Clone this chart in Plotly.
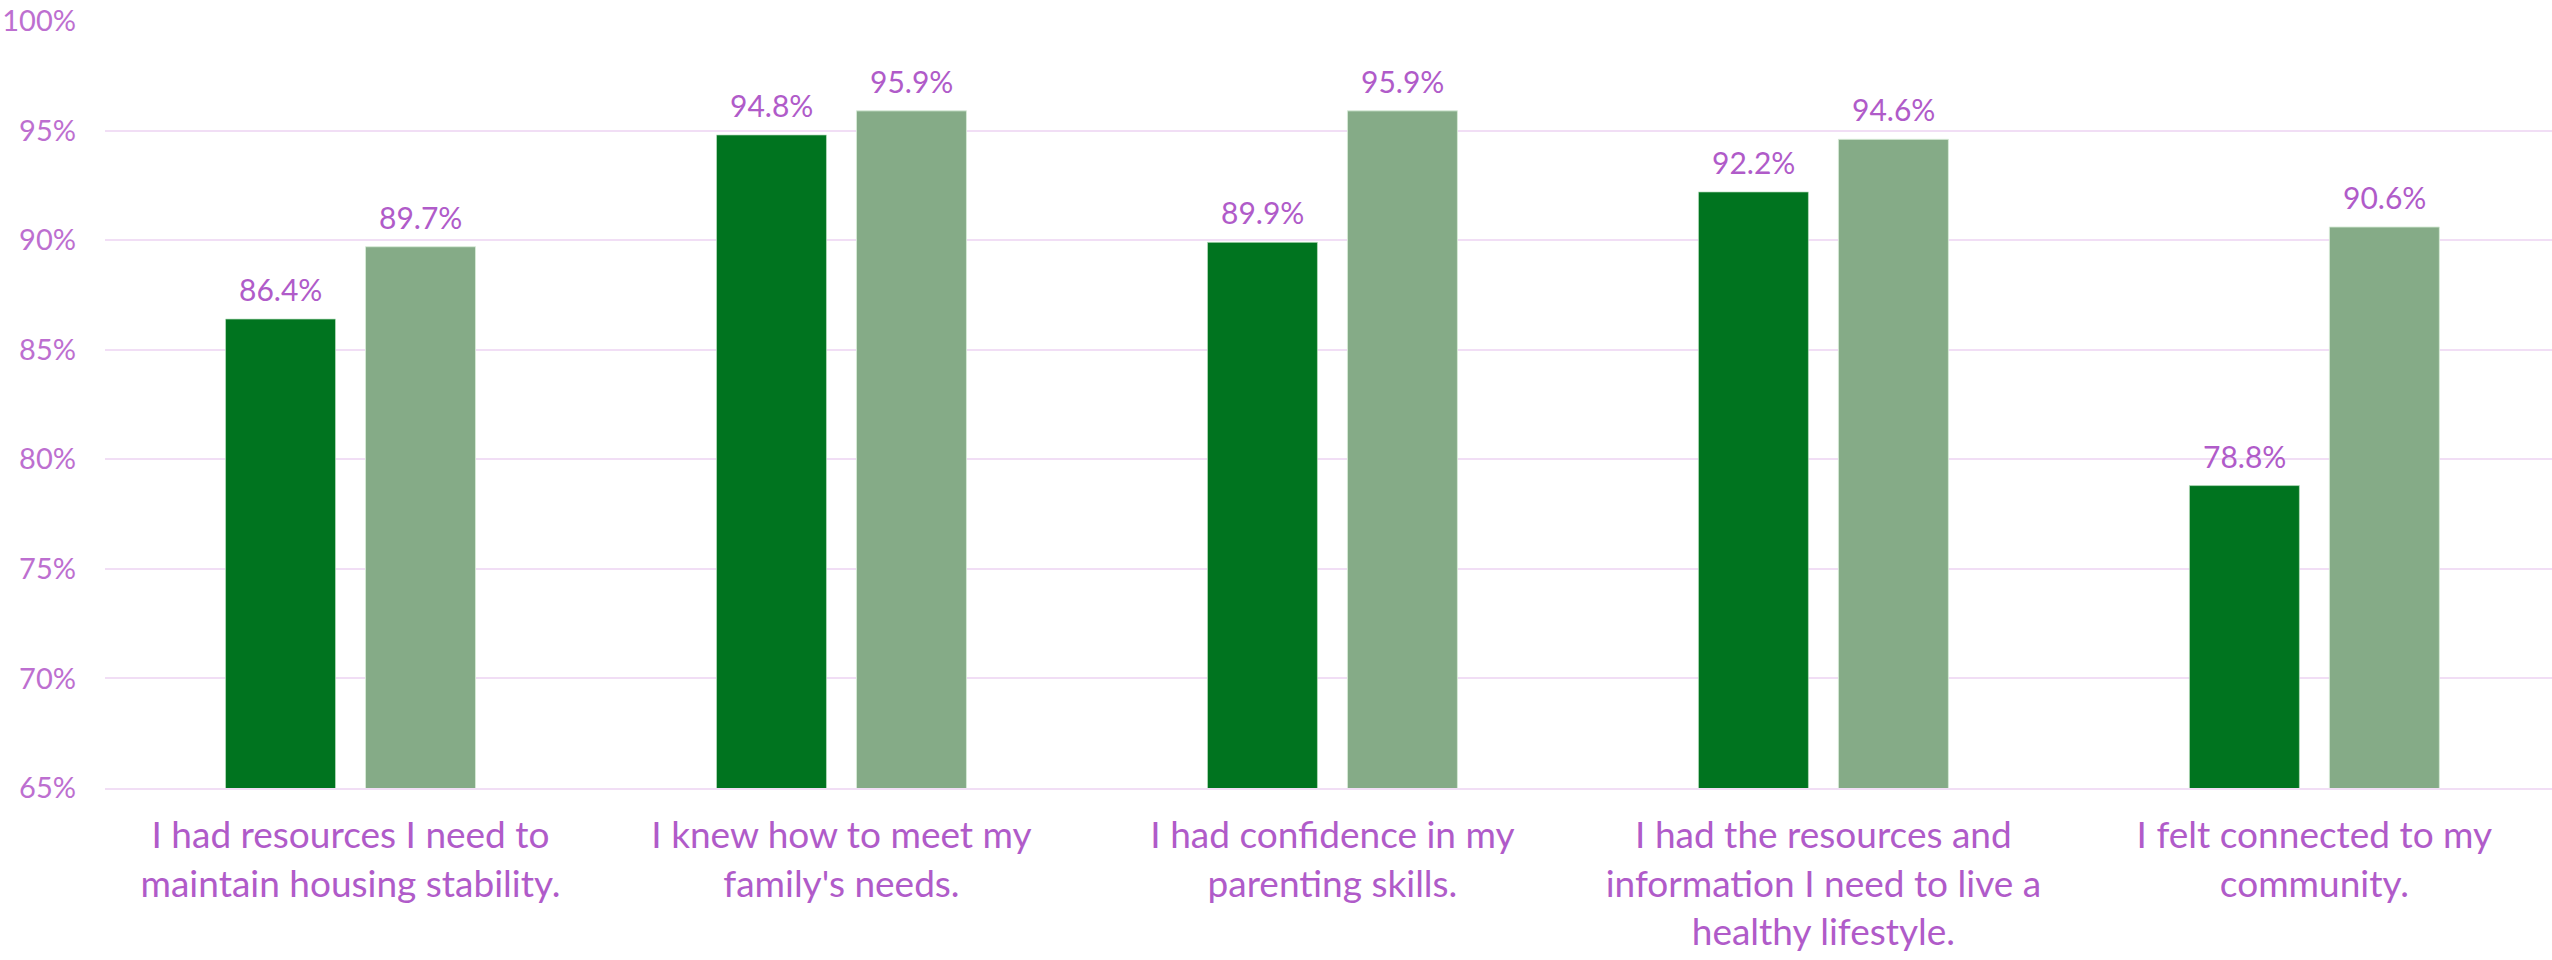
import plotly.graph_objects as go

# Survey statements (x-axis) and the share agreeing for each of two groups
statements = [
    "I had resources I need to<br>maintain housing stability.",
    "I knew how to meet my<br>family's needs.",
    "I had confidence in my<br>parenting skills.",
    "I had the resources and<br>information I need to live a<br>healthy lifestyle.",
    "I felt connected to my<br>community.",
]
series_a = [0.864, 0.948, 0.899, 0.922, 0.788]
series_b = [0.897, 0.959, 0.959, 0.946, 0.906]

y_ticks = [0.65, 0.70, 0.75, 0.80, 0.85, 0.90, 0.95, 1.00]

DARK = "#00741F"
LIGHT = "#85AB87"
LABEL = "#B05BC9"
TICK = "#BD6FD0"
GRID = "#F1DEF5"
FONT = "Lato, 'Open Sans', sans-serif"

BAR_W = 0.224
OFF_A = -0.2545
OFF_B = 0.0306

xs = list(range(len(statements)))

fig = go.Figure()
fig.add_trace(go.Bar(
    x=xs, y=series_a, width=BAR_W, offset=OFF_A,
    marker=dict(color=DARK, line=dict(color="rgba(190,225,195,0.7)", width=1)),
    showlegend=False, hoverinfo="skip",
))
fig.add_trace(go.Bar(
    x=xs, y=series_b, width=BAR_W, offset=OFF_B,
    marker=dict(color=LIGHT, line=dict(color="rgba(215,235,215,0.9)", width=1)),
    showlegend=False, hoverinfo="skip",
))

# value labels above each bar
annotations = []
for i in xs:
    for vals, off in ((series_a, OFF_A), (series_b, OFF_B)):
        annotations.append(dict(
            x=i + off + BAR_W / 2, y=vals[i], xref="x", yref="y",
            text=f"{vals[i] * 100:.1f}%", showarrow=False,
            yanchor="bottom", yshift=10,
            font=dict(family=FONT, size=30, color=LABEL),
        ))

fig.update_layout(
    width=2552, height=960,
    margin=dict(l=105, r=0, t=21, b=172),
    paper_bgcolor="white", plot_bgcolor="white",
    barmode="overlay",
    annotations=annotations,
    xaxis=dict(
        range=[-0.5, 4.484],
        tickmode="array", tickvals=xs, ticktext=statements,
        showgrid=False, zeroline=False, automargin=False,
        showline=True, linecolor=GRID, linewidth=2,
        ticks="", ticklabelstandoff=14,
        tickfont=dict(family=FONT, size=37, color=LABEL),
    ),
    yaxis=dict(
        range=[0.65, 1.0],
        tickmode="array", tickvals=y_ticks, tickformat=".0%",
        showgrid=True, gridcolor=GRID, gridwidth=2,
        zeroline=False, showline=False, ticks="", automargin=False,
        ticklabelstandoff=28,
        tickfont=dict(family=FONT, size=29, color=TICK),
    ),
)

fig.write_html("out.html")
